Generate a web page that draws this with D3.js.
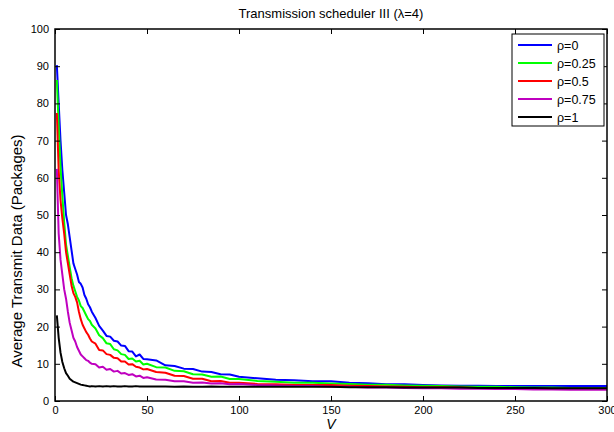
<!DOCTYPE html>
<html><head><meta charset="utf-8">
<script src="https://cdn.jsdelivr.net/npm/d3@7/dist/d3.min.js"></script>
<style>
body{margin:0;background:#fff;}
svg{display:block;font-family:"Liberation Sans",Arial,sans-serif;}
</style></head>
<body>
<svg id="chart" width="614" height="432"></svg>
<script>
const title = "Transmission scheduler III (\u03bb=4)";
const xLabel = "V";
const yLabel = "Average Transmit Data (Packages)";
const xTicks = [0,50,100,150,200,250,300];
const yTicks = [0,10,20,30,40,50,60,70,80,90,100];
const seriesNames = ["\u03c1=0","\u03c1=0.25","\u03c1=0.5","\u03c1=0.75","\u03c1=1"];
const seriesColors = ["#0000ff","#00ff00","#ff0000","#bf00bf","#000000"];

const V = [1,2,3,4,5,6,7,8,9,10,11,12,13,14,15,16,17,18,19,20,
  22,24,26,28,30,32,34,36,38,40,42,44,46,48,50,
  55,60,65,70,75,80,85,90,95,100,
  110,120,130,140,150,160,170,180,190,200,210,220,230,240,250,260,270,280,290,300];

const rho0 = [90.3,80,70,62,56,50,47.5,44,40.5,37,35.5,34,32,31.5,30.5,28.5,27.5,26,25.2,24,
  22.3,20.2,18.9,17.5,17.3,16.2,16.0,14.9,14.8,13.4,13.3,12.0,12.5,11.3,11.2,
  10.9,9.6,9.4,8.7,8.6,7.9,7.8,7.2,7.1,6.5,
  6.1,5.7,5.6,5.3,5.3,4.9,4.8,4.5,4.5,4.3,4.2,4.1,4.1,4.0,4.0,4.0,4.0,4.0,4.0,4.0];
const rho025 = [86.3,74,63,55,48,42,39,36,33,31,29.5,28,27,25.5,25,24,23,22,21.5,20.5,
  19.5,17.7,16.9,15.5,15.3,13.9,13.6,12.6,12.4,11.3,11.4,10.6,10.8,9.8,10.0,
  9.1,9.0,8.1,8.0,7.2,7.1,6.5,6.6,5.9,5.9,
  5.4,5.2,4.9,4.9,4.7,4.6,4.4,4.4,4.2,4.1,4.0,3.9,3.8,3.8,3.7,3.6,3.6,3.5,3.5,3.5];
const rho05 = [77.4,62,54,49,45,40,37,34,31,29,28,26.5,24,22,20.5,19.5,18.5,17.8,16.8,16,
  15.4,13.7,13.6,12.6,12.4,11.6,11.5,10.6,10.6,9.8,9.9,9.2,9.0,8.5,8.6,
  7.8,7.6,6.8,6.7,6.0,6.0,5.3,5.4,4.9,4.9,
  4.6,4.5,4.3,4.3,4.3,4.1,4.0,3.9,3.8,3.7,3.7,3.6,3.5,3.5,3.4,3.4,3.3,3.3,3.3,3.3];
const rho075 = [62.4,45,38,34,30,27.5,24,21,19,17,16,14.5,13.5,12.5,12,11.5,11,10.8,10.3,10,
  9.9,9.0,9.2,8.4,8.6,7.9,8.1,7.4,7.5,7.0,7.2,6.6,6.8,6.2,6.4,
  5.8,5.7,5.3,5.3,4.9,5.0,4.7,4.8,4.5,4.6,
  4.3,4.2,4.0,4.0,3.8,3.8,3.6,3.6,3.5,3.4,3.4,3.3,3.3,3.2,3.2,3.1,3.1,3.0,3.0,3.0];
const rho1 = [23,17,13,10.5,8.8,7.5,6.8,6.0,5.6,5.2,5.0,4.8,4.6,4.4,4.3,4.2,4.1,4.0,3.9,4.0,
  3.9,4.0,3.9,4.0,3.9,4.0,3.9,3.9,4.0,3.9,3.9,4.0,3.9,3.9,3.9,
  3.9,3.9,3.8,3.9,3.8,3.8,3.9,3.8,3.8,3.8,
  3.8,3.8,3.8,3.8,3.8,3.7,3.7,3.7,3.6,3.6,3.6,3.6,3.5,3.5,3.5,3.5,3.4,3.4,3.4,3.4];
const seriesValues = [rho0, rho025, rho05, rho075, rho1];

const svg = d3.select("#chart");
const m = {left:55, right:607, top:29, bottom:401};
const x = d3.scaleLinear().domain([0,300]).range([m.left, m.right]);
const y = d3.scaleLinear().domain([0,100]).range([m.bottom, m.top]);

svg.append("rect").attr("width",614).attr("height",432).attr("fill","#fff");

// lines
const line = d3.line().x((d,i)=>x(V[i])).y(d=>y(d));
seriesValues.forEach((s,k)=>{
  svg.append("path").datum(s).attr("d",line)
    .attr("fill","none").attr("stroke",seriesColors[k])
    .attr("stroke-width",2).attr("stroke-linejoin","round");
});

// axes
const fs = "11px";
const gB = svg.append("g").attr("transform",`translate(0,${m.bottom})`)
  .call(d3.axisBottom(x).tickValues(xTicks).tickSizeInner(-5).tickSizeOuter(0).tickPadding(5));
const gT = svg.append("g").attr("transform",`translate(0,${m.top})`)
  .call(d3.axisTop(x).tickValues(xTicks).tickSizeInner(-5).tickSizeOuter(0).tickFormat(""));
const gL = svg.append("g").attr("transform",`translate(${m.left},0)`)
  .call(d3.axisLeft(y).tickValues(yTicks).tickSizeInner(-5).tickSizeOuter(0).tickPadding(9));
const gR = svg.append("g").attr("transform",`translate(${m.right},0)`)
  .call(d3.axisRight(y).tickValues(yTicks).tickSizeInner(-5).tickSizeOuter(0).tickFormat(""));
[gB,gT,gL,gR].forEach(g=>{
  g.select(".domain").remove();
  g.selectAll(".tick line").attr("stroke","#000").attr("stroke-width",1);
  g.selectAll(".tick text").attr("font-size",fs).attr("fill","#000")
    .attr("font-family","'Liberation Sans',Arial,sans-serif");
});
gL.selectAll(".tick text").attr("dx","3");

svg.append("rect").attr("x",m.left).attr("y",m.top)
  .attr("width",m.right-m.left).attr("height",m.bottom-m.top)
  .attr("fill","none").attr("stroke","#000").attr("stroke-width",1.5);

// title and labels
svg.append("text").attr("x",(m.left+m.right)/2).attr("y",18)
  .attr("text-anchor","middle").attr("font-size","13px").text(title);
svg.append("text").attr("x",(m.left+m.right)/2).attr("y",429)
  .attr("text-anchor","middle").attr("font-size","14px").attr("font-style","italic").text(xLabel);
svg.append("text").attr("transform",`translate(22,251) rotate(-90)`)
  .attr("text-anchor","middle").attr("font-size","15px").text(yLabel);

// legend
const lg = svg.append("g");
lg.append("rect").attr("x",512).attr("y",34).attr("width",92).attr("height",92)
  .attr("fill","#fff").attr("stroke","#000").attr("stroke-width",1);
seriesNames.forEach((n,k)=>{
  const yy = 45 + k*18;
  lg.append("line").attr("x1",518).attr("x2",552).attr("y1",yy).attr("y2",yy)
    .attr("stroke",seriesColors[k]).attr("stroke-width",2);
  lg.append("text").attr("x",557).attr("y",yy+4.5).attr("font-size","12.5px").text(n);
});
</script>
</body></html>
